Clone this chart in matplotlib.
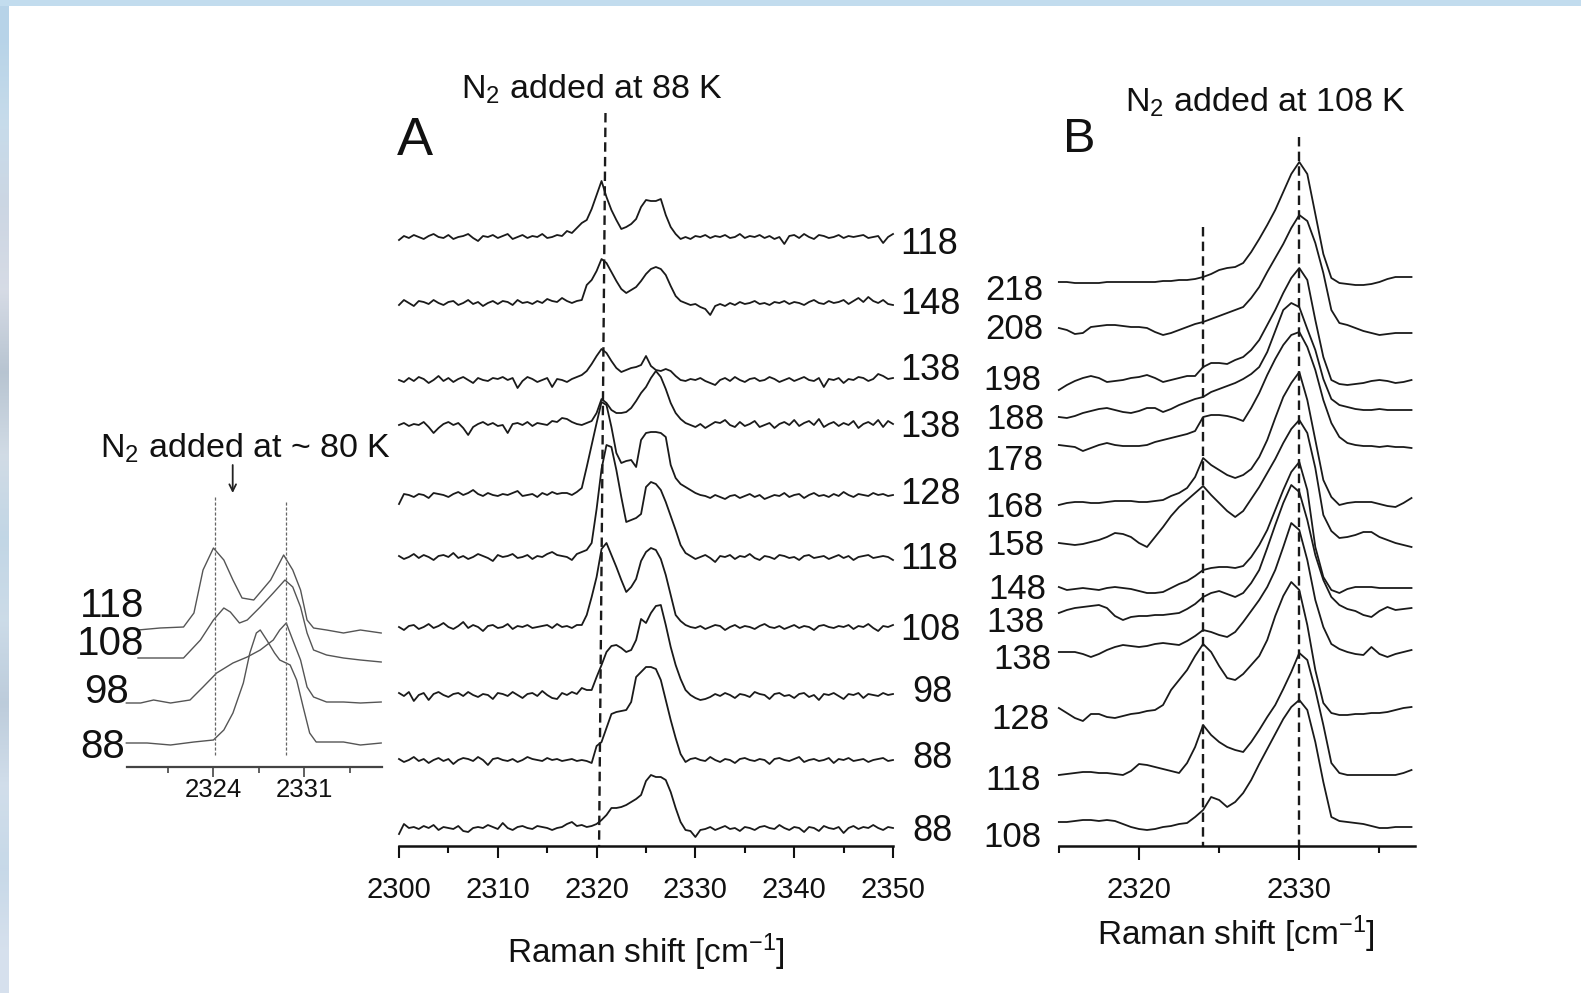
import numpy as np
import matplotlib
matplotlib.use("Agg")
import matplotlib.pyplot as plt
from matplotlib.patches import Rectangle

plt.rcParams['font.family'] = ['Liberation Sans', 'DejaVu Sans']
plt.rcParams['mathtext.fontset'] = 'custom'
plt.rcParams['mathtext.rm'] = 'Liberation Sans'
plt.rcParams['mathtext.it'] = 'Liberation Sans:italic'
plt.rcParams['mathtext.bf'] = 'Liberation Sans:bold'

# ---------------- data: panel A (N2 added at 88 K), 0.5 cm-1 steps ----------------
# each spectrum: left baseline 2300-2316.5, peak region 2317-2328.5, right baseline 2329-2350
A_labels = ['118', '148', '138', '138', '128', '118', '108', '98', '88', '88']
A_offsets = [609, 543, 466, 421, 351, 289, 219, 151, 86, 18]

A1_left = [-3, 1, -1, 2, 0, -2, 1, 3, 0, -1, 2, -2, 0, 1, 3, -1, -4, 1, 0, 2, -1, 1, 3, -2, 0, 2, -1, 1, 0, 3, -1, 0, 2, 1]
A1_peak = [6, 4, 9, 14, 17, 28, 42, 56, 40, 27, 17, 8, 10, 13, 18, 30, 37, 36, 36, 38, 22, 10, 3, -2]
A1_right = [0, -2, 1, 0, 2, -1, 1, 0, 2, -1, 0, 3, -1, 1, 0, 2, -1, 1, -2, 0, -7, 1, 2, -1, 3, 0, -2, 2, 1, -1, 0, 2, -1, 1, 0, 1, 2, -1, 0, 1, -6, 0, 3]

A2_left = [-2, 3, 0, -3, 2, 1, -1, 3, 0, -2, 1, 2, -2, 0, 3, -1, 1, -3, 0, 2, -1, 2, 1, -2, 3, 0, 1, -1, 2, 0, 4, 2, 1, 5]
A2_peak = [2, 0, 2, 3, 18, 23, 32, 44, 40, 31, 22, 14, 10, 13, 16, 22, 29, 34, 36, 34, 28, 17, 7, 2]
A2_right = [0, -2, -1, -4, -6, -12, -3, -1, -3, 0, -2, 1, -1, 0, 2, -1, 0, -2, 1, 0, 2, -1, 1, 0, -2, 1, 3, 0, -1, 2, 0, 1, 3, -1, 2, 5, 1, 6, 2, 0, 3, -1, -2]

A3_left = [0, -2, 2, -1, 3, 1, -3, 0, 4, -1, 2, -2, 1, 3, 0, -3, 2, 0, -1, 2, 1, 3, 0, 2, -8, -1, 3, 1, -2, 0, 2, -7, 1, 0]
A3_peak = [-2, 1, 3, 5, 9, 16, 24, 31, 27, 19, 12, 8, 10, 12, 13, 15, 24, 14, 10, 9, 11, 9, 4, 0]
A3_right = [-1, 1, 0, 2, -1, -3, -5, 0, 2, -1, 3, 0, -2, 1, 2, -1, 0, 3, 1, -2, 0, 2, -1, 1, 3, 0, -1, 2, -7, 1, 0, 2, -3, 1, 0, 3, 2, -1, 1, 6, 4, 1, 2]

A4_left = [0, 2, -1, 1, 0, 3, -2, -8, -3, 1, 3, 0, 2, -3, -10, -2, 1, 3, 0, 2, -1, 0, -8, 1, 2, 0, 3, -1, 2, 1, 0, 4, 3, 7]
A4_peak = [6, 3, 1, 0, 2, 4, 12, 26, 22, 15, 12, 12, 13, 17, 24, 32, 38, 47, 54, 48, 36, 22, 12, 6]
A4_right = [2, 0, -2, 1, -3, 0, 3, 2, 5, 0, -2, 3, -1, 1, 4, -2, 0, 2, -3, 1, 3, 0, 5, -1, 2, 4, 0, 6, -2, 1, 3, -1, 2, 0, 4, -3, 1, 3, 0, 5, -2, 4, 1]

A5_left = [-9, 1, 0, -2, 1, 0, -3, 2, 1, 0, -2, 1, 3, 0, 2, 5, 1, -1, 2, 0, -1, 1, 0, 2, 4, -1, 0, 1, -2, 2, 0, 3, 1, 2]
A5_peak = [2, 0, 3, 7, 28, 50, 72, 93, 90, 68, 42, 32, 34, 35, 28, 55, 62, 63, 63, 62, 58, 30, 17, 11]
A5_right = [8, 5, 2, 0, -1, -3, 0, -2, -4, -1, 0, -3, -1, 1, -2, 0, -4, -2, 0, -1, 2, -2, 0, 1, -3, 0, 2, -1, 0, -2, 1, -1, 3, 0, -2, 1, 0, -1, 2, 0, 1, -1, 0]

A6_left = [1, -2, 0, 3, -1, 2, 0, -3, 1, 2, 0, 4, -1, 1, -2, 0, 3, 1, -1, -4, 2, 0, 1, 3, -1, 0, 2, -2, 1, 0, 3, 5, 2, 1]
A6_peak = [0, -3, 3, 5, 7, 14, 48, 88, 112, 110, 87, 60, 35, 37, 39, 43, 70, 75, 73, 67, 55, 41, 27, 12]
A6_right = [4, 1, -2, 0, 2, -1, -5, 1, 0, 2, -2, 1, 0, 3, -1, -3, 1, 0, -2, 2, 1, -1, 0, -3, 1, 2, -1, 0, 1, -2, 0, 2, -1, 1, -3, 0, 1, 2, -1, 0, 1, 0, -3]

A7_left = [0, -3, 1, 2, -2, 0, 3, -1, 1, 4, 0, -2, 1, 5, -1, 2, 0, -4, 1, 2, -1, 0, 3, -2, 1, 0, 2, -1, 0, 1, 2, -1, 3, 0]
A7_peak = [1, -1, 2, 2, 12, 30, 50, 78, 84, 72, 60, 47, 35, 40, 48, 66, 75, 79, 77, 68, 52, 32, 12, 6]
A7_right = [2, 0, -1, 1, -2, 0, 2, 1, -3, 0, 2, -1, 1, 0, -2, 1, 3, 0, -1, 1, -2, 0, 2, -1, 1, 0, -3, 1, 2, 0, -1, 1, 0, 2, -2, 1, 0, 3, -1, -4, 1, 0, 2]

A8_left = [2, -1, 3, -6, 0, 2, -5, 1, 3, 0, -2, 1, 2, -1, 3, 0, -2, 1, 0, -4, 2, 1, -1, 3, 0, -3, 1, 2, -1, 4, 0, -3, -4, 2]
A8_peak = [0, 3, 1, 7, 5, 5, 18, 30, 43, 49, 50, 47, 43, 45, 55, 76, 72, 82, 89, 90, 70, 48, 30, 16]
A8_right = [5, 0, -3, -5, -4, -2, 1, -1, 2, 0, -3, 1, 0, -2, 3, 1, 0, -4, 1, 2, -1, 0, -3, 1, 2, -2, 0, -5, 1, 0, 2, -1, -4, 1, 0, 2, -3, 1, 0, -1, 2, 0, 1]

A9_left = [1, -2, 0, 3, -1, 1, -3, 0, 2, -1, 1, -4, 0, 2, 1, -1, 3, 0, -5, 1, 2, 0, -1, 1, -2, 0, 3, 1, 0, -1, 2, 0, 1, -1]
A9_peak = [0, 1, -1, 0, -1, -3, 14, 18, 32, 46, 48, 49, 50, 58, 83, 88, 93, 93, 91, 80, 60, 40, 22, 6]
A9_right = [-2, 1, 2, 0, -1, 3, 0, -2, 1, 0, -3, 1, 2, 0, -1, 1, 0, -4, 1, 2, 0, -1, 1, 3, -2, 0, 1, -1, 0, 2, -3, 1, 0, 2, -1, 0, 1, -2, 0, 1, 2, -1, 0]

A10_left = [-6, 4, 0, 1, -1, 2, 0, 3, -2, 1, 0, -1, 2, -3, -4, 0, 1, 0, 3, 1, -1, 5, 0, -2, 1, 2, 0, -1, 2, 1, 0, -2, 0, 1]
A10_peak = [4, 6, 2, 3, 1, 2, 4, 8, 13, 20, 20, 21, 23, 26, 29, 33, 47, 53, 51, 51, 48, 36, 20, 6]
A10_right = [-2, -3, -9, -2, -1, 1, -2, 0, 2, -1, 0, -3, 1, 0, -2, 1, 2, 0, -1, 3, 0, -2, 1, 0, -4, 1, 0, -3, 2, 0, -1, 1, -5, 0, 2, -1, 1, 0, 3, 0, -2, 1, 0]

A_segments = [
    (A1_left, A1_peak, A1_right), (A2_left, A2_peak, A2_right),
    (A3_left, A3_peak, A3_right), (A4_left, A4_peak, A4_right),
    (A5_left, A5_peak, A5_right), (A6_left, A6_peak, A6_right),
    (A7_left, A7_peak, A7_right), (A8_left, A8_peak, A8_right),
    (A9_left, A9_peak, A9_right), (A10_left, A10_peak, A10_right),
]
A_guide = [2320.9, 2320.25]          # dashed guide (top, bottom)
A_ticks_major = [2300, 2310, 2320, 2330, 2340, 2350]
A_ticks_minor = [2305, 2315, 2325, 2335, 2345]

# ---------------- data: panel B (N2 added at 108 K), 2315-2337 in 0.5 steps ----------------
B_labels = ['218', '208', '198', '188', '178', '168', '158', '148', '138', '138', '128', '118', '108']
B_offsets = [564, 518, 456, 429, 401, 341, 303, 259, 233, 194, 138, 71, 24]
B218 = [0, 0, -1, -1, -1, -1, 0, 0, 0, 0, 0, 0, 0, 1, 1, 2, 2, 3, 5, 8, 12, 14, 15, 19, 30, 43, 57, 72, 90, 108, 120, 108, 68, 28, 4, -1, -2, -3, -3, -2, 0, 3, 5, 5, 5]
B208 = [0, -2, -6, -5, 1, 2, 3, 3, 2, 1, 1, 0, -4, -7, -5, -2, 1, 4, 6, 9, 12, 15, 18, 21, 30, 41, 56, 70, 84, 100, 113, 107, 85, 55, 18, 5, 3, 0, -3, -5, -7, -6, -5, -5, -5]
B198 = [0, 5, 9, 12, 14, 12, 8, 9, 10, 12, 13, 15, 12, 8, 10, 12, 14, 14, 23, 27, 27, 26, 30, 33, 40, 50, 65, 80, 97, 112, 122, 110, 70, 33, 10, 6, 5, 6, 7, 9, 10, 9, 7, 8, 10]
B188 = [0, -1, 1, 4, 6, 8, 9, 7, 5, 4, 6, 9, 9, 5, 8, 12, 15, 18, 20, 25, 28, 31, 34, 38, 43, 50, 65, 86, 107, 114, 110, 88, 67, 38, 18, 12, 10, 8, 7, 7, 8, 7, 7, 7, 7]
B178 = [0, -1, -2, -6, -3, 0, 2, 0, -1, -1, -1, 0, 3, 5, 7, 9, 11, 14, 28, 30, 30, 29, 27, 24, 37, 52, 70, 86, 100, 110, 113, 98, 75, 45, 22, 8, 2, 0, -1, -1, -2, -1, -2, -2, -3]
B168 = [0, 2, 3, 3, 2, 2, 3, 4, 4, 4, 3, 3, 4, 5, 9, 12, 17, 28, 47, 40, 35, 30, 27, 30, 36, 48, 65, 87, 108, 122, 133, 105, 65, 25, 8, 0, 2, 3, 3, 3, 1, -1, -2, 2, 7]
B158 = [0, -1, -2, -1, 1, 3, 6, 10, 9, 6, 0, -4, 6, 16, 27, 36, 43, 50, 57, 48, 40, 32, 26, 32, 44, 56, 70, 84, 100, 114, 123, 110, 75, 28, 12, 5, 6, 8, 11, 11, 6, 3, 0, -2, -4]
B148 = [0, -3, -2, -1, -2, -3, -1, 0, -1, -2, -4, -6, -6, -5, -1, 3, 6, 11, 17, 19, 20, 20, 19, 21, 30, 42, 57, 77, 97, 115, 125, 97, 40, 10, -3, -6, -2, 0, 0, 0, -1, -1, -1, -1, -1]
B138a = [0, 3, 5, 6, 7, 8, 5, -3, -7, -4, -3, -3, -2, -2, -1, 0, 4, 9, 16, 20, 22, 19, 16, 20, 30, 43, 65, 88, 110, 128, 121, 93, 58, 33, 16, 8, 4, 2, -2, -4, 2, 6, 3, 4, 5]
B138b = [0, 0, 0, -2, -5, -2, 2, 5, 7, 6, 5, 6, 8, 9, 8, 7, 11, 16, 22, 20, 17, 15, 20, 30, 41, 52, 65, 82, 105, 129, 122, 92, 52, 25, 8, 3, 0, -2, -3, 5, -2, -5, -2, 0, 2]
B128 = [0, -5, -10, -13, -6, -6, -9, -10, -8, -6, -5, -3, -2, 3, 18, 28, 38, 52, 64, 56, 42, 30, 28, 34, 43, 52, 68, 92, 112, 126, 118, 83, 38, 5, -5, -7, -7, -6, -6, -5, -5, -4, -2, 0, 1]
B118 = [0, 1, 2, 3, 3, 2, 2, 1, 0, 4, 11, 10, 8, 6, 4, 2, 12, 28, 50, 40, 33, 28, 25, 23, 33, 45, 58, 70, 86, 103, 122, 115, 85, 50, 12, 2, 0, 0, 0, 0, 0, 0, 0, 2, 5]
B108 = [0, 0, 1, 2, 2, 1, 2, 1, -2, -5, -7, -8, -7, -5, -4, -2, -1, 5, 12, 25, 22, 15, 20, 29, 42, 58, 73, 88, 103, 115, 122, 112, 80, 40, 5, 1, 0, -1, -2, -4, -6, -6, -5, -5, -5]
B_series = [B218, B208, B198, B188, B178, B168, B158, B148, B138a, B138b, B128, B118, B108]
B_guides = [2324.0, 2330.0]
B_ticks_major = [2320, 2330]
B_ticks_minor = [2315, 2325, 2335]

# ---------------- data: inset (N2 added at ~80 K) ----------------
I_labels = ['118', '108', '98', '88']
I_offsets = [137, 109, 64, 24]
I118_x = [2318.2, 2319.9, 2321.7, 2322.5, 2323.2, 2324.0, 2324.8, 2325.5, 2326.2, 2327.1, 2328.4, 2329.4, 2330.1, 2330.7, 2331.2, 2331.7, 2332.7, 2334.0, 2335.3, 2336.9]
I118_y = [0, 2, 3, 17, 60, 82, 70, 50, 32, 30, 50, 75, 60, 40, 10, 2, 0, -3, 0, -3]
I108_x = [2318.2, 2319.9, 2321.7, 2323.0, 2324.0, 2324.8, 2325.3, 2326.0, 2326.6, 2327.6, 2328.6, 2329.5, 2330.1, 2330.7, 2331.2, 2331.7, 2332.7, 2334.0, 2335.3, 2336.9]
I108_y = [0, 0, 0, 18, 38, 50, 46, 35, 38, 51, 65, 78, 71, 51, 25, 8, 3, 0, -2, -4]
I98_x = [2317.3, 2318.4, 2319.4, 2320.7, 2322.2, 2323.2, 2324.25, 2325.5, 2326.6, 2327.6, 2328.6, 2329.1, 2329.6, 2330.1, 2330.7, 2331.2, 2331.7, 2332.7, 2334.0, 2335.3, 2336.9]
I98_y = [0, 0, 3, 0, 3, 16, 30, 40, 46, 53, 63, 73, 80, 63, 43, 16, 6, 1, 1, 0, 1]
I88_x = [2317.3, 2318.9, 2320.7, 2322.5, 2324.0, 2324.8, 2325.5, 2326.3, 2326.8, 2327.3, 2327.6, 2328.1, 2328.7, 2329.1, 2329.9, 2330.4, 2330.9, 2331.4, 2331.9, 2332.7, 2334.0, 2335.3, 2336.9]
I88_y = [0, 0, -2, 1, 3, 13, 30, 60, 90, 110, 113, 103, 90, 83, 78, 63, 36, 10, 1, 1, 1, -2, 0]
I_series = [(I118_x, I118_y), (I108_x, I108_y), (I98_x, I98_y), (I88_x, I88_y)]
I_guides = [2324.1, 2329.6]
I_ticks_major = [2324, 2331]
I_ticks_minor = [2320.5, 2327.5, 2334.5]

# ---------------- figure ----------------
W, H = 1581, 993
fig = plt.figure(figsize=(W / 100, H / 100), dpi=100)
fig.patch.set_facecolor('white')
PX = 100 / 72.0
INK = '#111111'


def px_axes(x0, x1, y_top, y_axis):
    return fig.add_axes([x0 / W, 1 - y_axis / H, (x1 - x0) / W, (y_axis - y_top) / H])


def ftext(x, yc, s, size, ha='left', color=INK, **kw):
    fig.text(x / W, 1 - (yc + 0.358 * size * PX) / H, s, fontsize=size, ha=ha,
             va='baseline', color=color, **kw)


def style_axis(ax, major, minor, lmaj, lmin, pad, lsize, color=INK, lw=1.8, tw=1.5):
    for s in ['left', 'right', 'top']:
        ax.spines[s].set_visible(False)
    ax.spines['bottom'].set_linewidth(lw)
    ax.spines['bottom'].set_color(color)
    ax.set_yticks([])
    ax.set_xticks(major)
    ax.set_xticks(minor, minor=True)
    ax.set_xticklabels([str(int(t)) for t in major])
    ax.tick_params(axis='x', which='major', direction='out', length=lmaj, width=tw,
                   pad=pad, labelsize=lsize, color=color, labelcolor=INK)
    ax.tick_params(axis='x', which='minor', direction='out', length=lmin, width=tw, color=color)
    ax.patch.set_visible(False)


# background frame (light blue strips on left and top)
bg = fig.add_axes([0, 0, 1, 1], zorder=-10)
strip = np.array([[[0.72, 0.83, 0.91]], [[0.78, 0.86, 0.92]], [[0.80, 0.84, 0.89]],
                  [[0.84, 0.86, 0.90]], [[0.72, 0.77, 0.82]], [[0.82, 0.86, 0.90]],
                  [[0.76, 0.84, 0.90]], [[0.80, 0.86, 0.91]], [[0.74, 0.80, 0.86]],
                  [[0.82, 0.87, 0.92]], [[0.78, 0.85, 0.91]], [[0.84, 0.88, 0.93]]])
bg.imshow(strip, extent=(0, 9, H, 0), aspect='auto', interpolation='bilinear')
bg.add_patch(Rectangle((0, 0), W, 6, color='#c2dcee', lw=0))
bg.set_xlim(0, W)
bg.set_ylim(H, 0)
bg.axis('off')

# ---------------- panel A ----------------
axA = px_axes(399, 893, 100, 846)
axA.set_xlim(2300, 2350)
axA.set_ylim(0, 746)
for (lft, pk, rgt), off in zip(A_segments, A_offsets):
    x = np.concatenate([2300 + 0.5 * np.arange(len(lft)),
                        2317 + 0.5 * np.arange(len(pk)),
                        2350 - 0.5 * np.arange(len(rgt))[::-1]])
    y = np.concatenate([lft, pk, rgt]).astype(float) + off
    axA.plot(x, y, color='#1a1a1a', lw=1.3, clip_on=False)
axA.plot(A_guide, [733, 0], color='#1a1a1a', lw=1.7, dashes=(4, 2.2), clip_on=False)
style_axis(axA, A_ticks_major, A_ticks_minor, 8.6, 5, 13, 21)

A_label_pos = [(900, 241), (900, 301), (900, 367), (900, 424), (900, 491),
               (900, 556), (900, 627), (912, 689), (912, 755), (912, 828)]
for lab, (lx, ly) in zip(A_labels, A_label_pos):
    ftext(lx, ly, lab, 26)

ftext(415, 136, 'A', 39, ha='center')
fig.text(461 / W, 1 - 99 / H, r'N$_2$ added at 88 K', fontsize=24.5, ha='left', va='baseline', color=INK)
fig.text(646 / W, 1 - 963 / H, r'Raman shift [cm$^{\mathrm{-1}}$]', fontsize=24, ha='center', va='baseline', color=INK)

# ---------------- panel B ----------------
axB = px_axes(1058.85, 1414.7, 100, 846)
axB.set_xlim(2315.0, 2337.2)
axB.set_ylim(0, 746)
for vals, off in zip(B_series, B_offsets):
    x = 2315 + 0.5 * np.arange(len(vals))
    axB.plot(x, np.asarray(vals, float) + off, color='#1a1a1a', lw=1.3, clip_on=False)
axB.plot([B_guides[0]] * 2, [619, 0], color='#1a1a1a', lw=1.7, dashes=(4, 2.2), clip_on=False)
axB.plot([B_guides[1]] * 2, [709, 0], color='#1a1a1a', lw=1.7, dashes=(4, 2.2), clip_on=False)
style_axis(axB, B_ticks_major, B_ticks_minor, 10, 5, 11.5, 21)

B_label_pos = [(985, 288), (985, 327), (983, 378), (986, 417), (985, 458), (985, 505),
               (986, 543), (988, 587), (986, 620), (993, 657), (991, 717), (985, 778), (983, 835)]
for lab, (lx, ly) in zip(B_labels, B_label_pos):
    ftext(lx, ly, lab, 25)

ftext(1079, 135, 'B', 35, ha='center')
fig.text(1125 / W, 1 - 112 / H, r'N$_2$ added at 108 K', fontsize=24.5, ha='left', va='baseline', color=INK)
fig.text(1236 / W, 1 - 945 / H, r'Raman shift [cm$^{\mathrm{-1}}$]', fontsize=24, ha='center', va='baseline', color=INK)

# ---------------- inset ----------------
axI = px_axes(126.7, 381.7, 480, 767)
axI.set_xlim(2317.33, 2336.94)
axI.set_ylim(0, 287)
for (xs, ys), off in zip(I_series, I_offsets):
    axI.plot(xs, np.asarray(ys, float) + off, color='#555555', lw=1.0, clip_on=False)
axI.plot([I_guides[0]] * 2, [270, 12], color='#666666', lw=0.9, dashes=(2.5, 1.5), clip_on=False)
axI.plot([I_guides[1]] * 2, [265, 12], color='#666666', lw=0.9, dashes=(2.5, 1.5), clip_on=False)
style_axis(axI, I_ticks_major, I_ticks_minor, 7, 4, 1.0, 18.5, color='#444444', lw=1.6, tw=1.2)

I_label_pos = [(80, 603), (77, 641), (84, 689), (80, 744)]
for lab, (lx, ly) in zip(I_labels, I_label_pos):
    ftext(lx, ly, lab, 29)

fig.text(100 / W, 1 - 458 / H, r'N$_2$ added at ~ 80 K', fontsize=24.5, ha='left', va='baseline', color=INK)
axI.annotate('', xy=(232.7 / W, 1 - 493 / H), xytext=(232.7 / W, 1 - 465 / H),
             xycoords='figure fraction', textcoords='figure fraction',
             arrowprops=dict(arrowstyle='->', lw=1.3, color='#222222', mutation_scale=12,
                             shrinkA=0, shrinkB=0))

fig.savefig('out.png', dpi=100)
